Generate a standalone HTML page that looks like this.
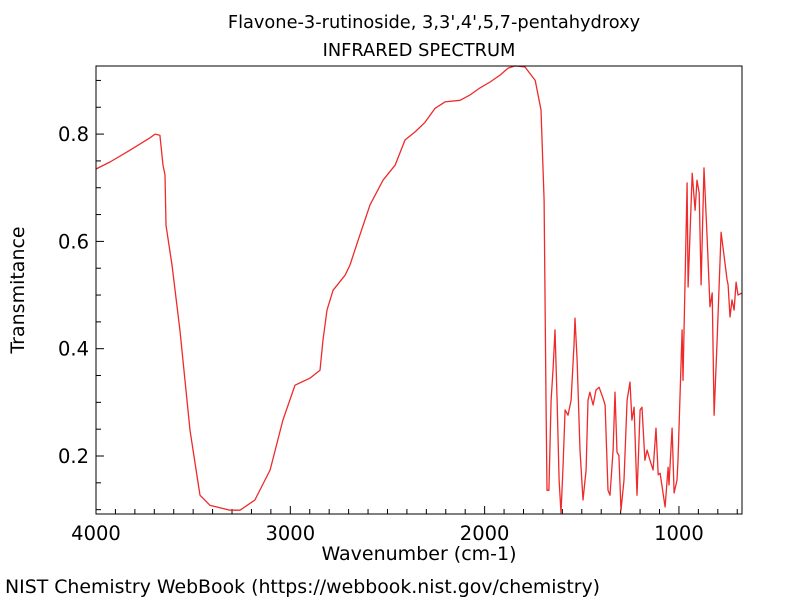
<!DOCTYPE html>
<html><head><meta charset="utf-8"><style>
body{margin:0;background:#fff;}
svg text{font-family:"DejaVu Sans","Liberation Sans",sans-serif;fill:#000;}
</style></head><body>
<svg id="chart" width="800" height="600" xmlns="http://www.w3.org/2000/svg">
<text x="434" y="28" font-size="17.8" text-anchor="middle">Flavone-3-rutinoside, 3,3',4',5,7-pentahydroxy</text>
<text x="419" y="56" font-size="17.8" text-anchor="middle">INFRARED SPECTRUM</text>
<text x="419" y="560" font-size="19" text-anchor="middle">Wavenumber (cm-1)</text>
<text x="24" y="290" font-size="19" text-anchor="middle" transform="rotate(-90 24 290)">Transmitance</text>
<text x="5" y="593" font-size="18.9">NIST Chemistry WebBook (https://webbook.nist.gov/chemistry)</text>
<g id="axes"></g>
<path id="spectrum" fill="none" stroke="#ee2a2a" stroke-width="1.3" stroke-linejoin="round"/>
<rect x="96" y="66" width="646" height="448" fill="none" stroke="#000" stroke-width="1"/>
</svg>
<script>
const wavenumbers=[4000,3928,3825,3722,3696,3671,3655,3645,3640,3609,3568,3516,3485,3465,3413,3310,3259,3182,3104,3038,2976,2899,2847,2832,2811,2780,2718,2693,2651,2590,2523,2461,2410,2358,2307,2255,2204,2127,2075,2024,1972,1921,1879,1843,1792,1740,1710,1694,1684,1679,1669,1658,1648,1638,1627,1617,1607,1597,1586,1571,1555,1540,1535,1524,1509,1494,1478,1468,1458,1442,1427,1411,1391,1380,1365,1355,1339,1329,1319,1309,1298,1283,1267,1252,1242,1231,1216,1200,1190,1175,1164,1149,1133,1118,1107,1097,1071,1056,1051,1035,1025,1010,1005,984,979,958,953,932,917,907,896,886,871,855,840,829,819,804,783,752,747,737,727,716,706,696,675];
const transmittance=[0.735,0.748,0.770,0.793,0.800,0.798,0.742,0.724,0.630,0.556,0.435,0.248,0.174,0.127,0.108,0.099,0.099,0.118,0.174,0.267,0.332,0.345,0.360,0.416,0.472,0.509,0.537,0.556,0.602,0.668,0.714,0.742,0.789,0.804,0.822,0.848,0.860,0.863,0.873,0.886,0.897,0.910,0.923,0.927,0.925,0.900,0.845,0.677,0.304,0.136,0.136,0.304,0.360,0.435,0.304,0.155,0.094,0.174,0.286,0.276,0.304,0.407,0.457,0.379,0.211,0.118,0.174,0.304,0.319,0.295,0.323,0.328,0.308,0.295,0.136,0.127,0.211,0.319,0.207,0.201,0.099,0.155,0.304,0.338,0.267,0.291,0.127,0.286,0.291,0.192,0.211,0.192,0.174,0.252,0.165,0.168,0.105,0.179,0.146,0.252,0.131,0.155,0.192,0.435,0.341,0.709,0.515,0.727,0.658,0.714,0.690,0.519,0.737,0.608,0.478,0.504,0.276,0.410,0.617,0.528,0.519,0.459,0.491,0.472,0.524,0.500,0.504];
const xTickLabels=[4000,3000,2000,1000];
const yTickLabels=["0.2","0.4","0.6","0.8"];
const X0=96,X1=742,Y0=514,Y1=66;
const XMAX=4000,XMIN=675.5,YMIN=0.0919,YMAX=0.9269;
function sx(w){return X0+(XMAX-w)/(XMAX-XMIN)*(X1-X0);}
function sy(t){return Y0-(t-YMIN)/(YMAX-YMIN)*(Y0-Y1);}
const NS="http://www.w3.org/2000/svg";
const ax=document.getElementById('axes');
function line(x1,y1,x2,y2,name){const l=document.createElementNS(NS,'line');
l.setAttribute('x1',x1);l.setAttribute('y1',y1);l.setAttribute('x2',x2);l.setAttribute('y2',y2);
l.setAttribute('stroke','#000');l.setAttribute('stroke-width','1');


ax.appendChild(l);}
function txt(x,y,s,anchor,name){const t=document.createElementNS(NS,'text');
t.setAttribute('x',x);t.setAttribute('y',y);t.setAttribute('font-size','19.5');t.setAttribute('text-anchor',anchor);t.textContent=s;


ax.appendChild(t);}
for(let w=700;w<=4000;w+=100){const x=sx(w);if(x<X0-0.5||x>X1)continue;
const major=w%1000===0;line(x,Y0,x,Y0-(major?8:5),major?'x-major-tick':'x-minor-tick');}
xTickLabels.forEach(w=>txt(sx(w),Y0+26,String(w),'middle','x-tick-label'));
for(let i=2;i<=18;i++){const v=i*0.05;const y=sy(v);if(y<Y1||y>Y0)continue;
const major=i%4===0;line(X0,y,X0+(major?8:5),y,major?'y-major-tick':'y-minor-tick');}
yTickLabels.forEach(s=>txt(X0-7,sy(parseFloat(s))+7,s,'end','y-tick-label'));
let d='';wavenumbers.forEach((w,i)=>{d+=(i?'L':'M')+sx(w).toFixed(1)+' '+sy(transmittance[i]).toFixed(1);});
document.getElementById('spectrum').setAttribute('d',d);
</script>
</body></html>
